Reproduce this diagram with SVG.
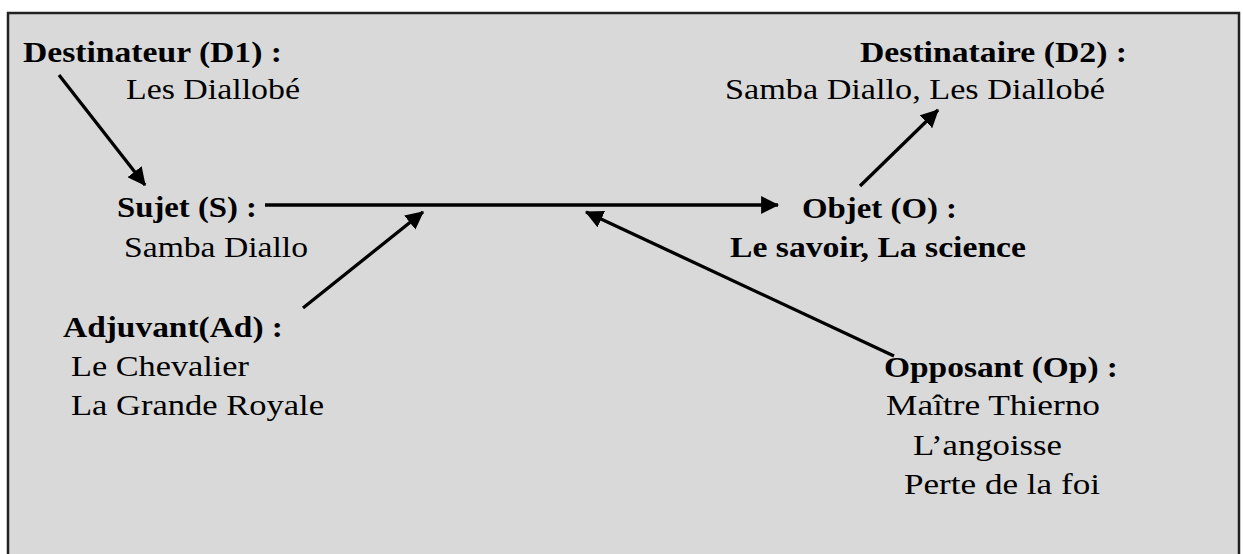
<svg xmlns="http://www.w3.org/2000/svg" width="1243" height="554" viewBox="0 0 1243 554">
<style>
.t{font-family:"Liberation Serif","DejaVu Serif",serif;font-size:30px;fill:#000}
.b{font-weight:bold}
.c{stroke:#000;stroke-width:3.3;fill:none;marker-end:url(#ah)}
</style>
<defs>
<marker id="ah" markerUnits="userSpaceOnUse" markerWidth="18" markerHeight="18" viewBox="0 0 16 16" refX="15" refY="8" orient="auto">
<path d="M0,0 L16,8 L0,16 Z" fill="#000"/>
</marker>
</defs>
<rect x="8" y="13" width="1231" height="550" fill="#d9d9d9" stroke="#222" stroke-width="2.5"/>
<g id="connectors">
<line class="c" x1="59" y1="75" x2="145" y2="185"/>
<line class="c" x1="265" y1="205" x2="778" y2="205"/>
<line class="c" x1="860" y1="186" x2="938" y2="110"/>
<line class="c" x1="303" y1="308" x2="423" y2="212"/>
<line class="c" x1="894" y1="356" x2="586" y2="212"/>
</g>
<g id="destinateur">
<text class="t b" x="23" y="62" textLength="259" lengthAdjust="spacingAndGlyphs">Destinateur (D1) :</text>
<text class="t" x="126" y="99" textLength="174" lengthAdjust="spacingAndGlyphs">Les Diallobé</text>
</g>
<g id="destinataire">
<text class="t b" x="860" y="62" textLength="267" lengthAdjust="spacingAndGlyphs">Destinataire (D2) :</text>
<text class="t" x="725" y="99" textLength="380" lengthAdjust="spacingAndGlyphs">Samba Diallo, Les Diallobé</text>
</g>
<g id="sujet">
<text class="t b" x="117" y="217" textLength="140" lengthAdjust="spacingAndGlyphs">Sujet (S) :</text>
<text class="t" x="124" y="257" textLength="184" lengthAdjust="spacingAndGlyphs">Samba Diallo</text>
</g>
<g id="objet">
<text class="t b" x="802" y="218" textLength="155" lengthAdjust="spacingAndGlyphs">Objet (O) :</text>
<text class="t b" x="730" y="257" textLength="296" lengthAdjust="spacingAndGlyphs">Le savoir, La science</text>
</g>
<g id="adjuvant">
<text class="t b" x="63" y="337" textLength="220" lengthAdjust="spacingAndGlyphs">Adjuvant(Ad) :</text>
<text class="t" x="71" y="376" textLength="178" lengthAdjust="spacingAndGlyphs">Le Chevalier</text>
<text class="t" x="71" y="415" textLength="253" lengthAdjust="spacingAndGlyphs">La Grande Royale</text>
</g>
<g id="opposant">
<text class="t b" x="884" y="377" textLength="234" lengthAdjust="spacingAndGlyphs">Opposant (Op) :</text>
<text class="t" x="886" y="415" textLength="214" lengthAdjust="spacingAndGlyphs">Maître Thierno</text>
<text class="t" x="913" y="455" textLength="149" lengthAdjust="spacingAndGlyphs">L’angoisse</text>
<text class="t" x="904" y="494" textLength="196" lengthAdjust="spacingAndGlyphs">Perte de la foi</text>
</g>
</svg>
